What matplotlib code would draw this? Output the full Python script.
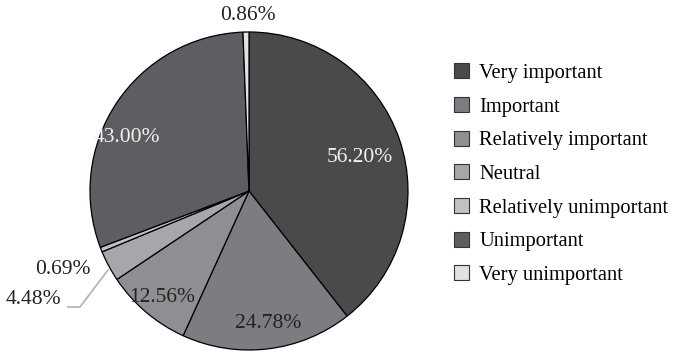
import numpy as np
import matplotlib.pyplot as plt
from matplotlib.patches import Patch

plt.rcParams['font.family'] = ['Liberation Serif', 'DejaVu Serif']

labels = ['Very important', 'Important', 'Relatively important', 'Neutral',
          'Relatively unimportant', 'Unimportant', 'Very unimportant']
values = [56.20, 24.78, 12.56, 4.48, 0.69, 43.00, 0.86]
colors = ['#4a4a4d', '#7c7d81', '#8e8f93', '#a6a7ab', '#c1c2c5', '#5d5e62', '#e2e2e2']
text_colors = ['#f2f2f2', '#222222', '#222222', '#222222', '#222222', '#f2f2f2', '#222222']

# centre and radius of the pie in pixels
W, H = 680, 355
cx, cy, R = 249, 191, 159

fig = plt.figure(figsize=(W / 100, H / 100), dpi=100)
ax = fig.add_axes([0, 0, 1, 1])

wedges, _ = ax.pie(values, colors=colors, startangle=90, counterclock=False,
                   radius=1.0, wedgeprops=dict(edgecolor='black', linewidth=0.9))

ax.set_xlim(-cx / R, (W - cx) / R)
ax.set_ylim(-(H - cy) / R, cy / R)
ax.set_aspect('equal')
ax.axis('off')


def px(x, y):
    return (x - cx) / R, (cy - y) / R


# label positions (pixels)
label_pos = [(360, 157), (268, 323), (162, 297), (33, 300), (63, 270), (127, 137), (248, 15)]
for v, (x, y), tc in zip(values, label_pos, text_colors):
    ax.text(*px(x, y), f'{v:.2f}%', ha='center', va='center', fontsize=15.5, color=tc)

# leader line for Neutral
ln = np.array([px(108, 270), px(80, 307), px(68, 307)])
ax.plot(ln[:, 0], ln[:, 1], color='#b0b0b0', linewidth=1.2)

handles = [Patch(facecolor=c, edgecolor='#333333', linewidth=0.8) for c in colors]
fig.legend(handles, labels, loc='upper left', bbox_to_anchor=(0.655, 0.845),
           frameon=False, fontsize=14.8, handlelength=0.75, handleheight=0.75,
           handletextpad=0.5, labelspacing=0.68, borderaxespad=0)

fig.savefig('out.png', dpi=100)
